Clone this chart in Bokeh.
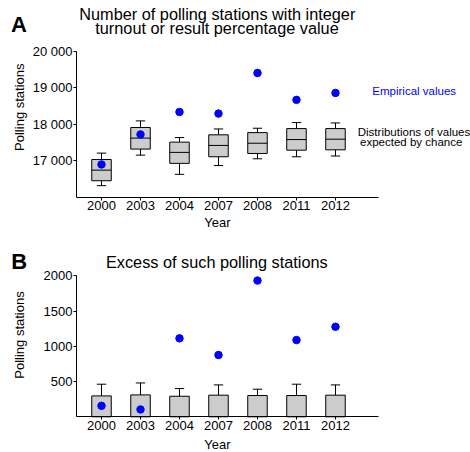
import math
from bokeh.plotting import figure
from bokeh.models import Range1d, FixedTicker, Label, LinearAxis
from bokeh.layouts import column
from bokeh.embed import file_html
from bokeh.resources import INLINE

years = ["2000", "2003", "2004", "2007", "2008", "2011", "2012"]

# Panel A: distributions expected by chance (box plots) and empirical values
whisker_low_a = [16320, 17155, 16630, 16870, 17055, 17110, 17130]
q1_a = [16455, 17320, 16930, 17110, 17200, 17290, 17300]
median_a = [16745, 17620, 17230, 17420, 17480, 17580, 17590]
q3_a = [17035, 17910, 17510, 17710, 17770, 17880, 17880]
whisker_high_a = [17210, 18090, 17635, 17870, 17890, 18045, 18035]
empirical_a = [16900, 17720, 18335, 18290, 19400, 18665, 18855]
yticks_a = [17000, 18000, 19000, 20000]

# Panel B: excess of such polling stations
expected_b = [297, 311, 292, 307, 302, 302, 307]
expected_b_high = [463, 481, 401, 453, 392, 463, 453]
empirical_b = [156, 104, 1114, 878, 1935, 1090, 1279]
yticks_b = [500, 1000, 1500, 2000]

FONT = "Liberation Sans"
GREY = "#cccccc"
BLUE = "#0000ff"
xs = list(range(1, len(years) + 1))
BOX_W = 0.5
CAP_W = 0.24
X_VIEW = (-1.590, 10.462)      # visible x extent (canvas)
X_AXIS = (0.359, 8.103)        # drawn extent of the x axis


def make_fig(h, y_view, y_axis_bounds, yticks, ylabels):
    p = figure(width=470, height=h, output_backend="svg", toolbar_location=None,
               x_range=Range1d(*X_VIEW), y_range=Range1d(*y_view),
               x_axis_location=None, y_axis_location=None, min_border=0)
    p.outline_line_color = None
    p.background_fill_color = "white"
    p.border_fill_color = "white"
    for g in p.xgrid + p.ygrid:
        g.visible = False
    xa = LinearAxis(fixed_location=y_axis_bounds[0], bounds=X_AXIS,
                    ticker=FixedTicker(ticks=xs),
                    major_label_overrides={x: y for x, y in zip(xs, years)})
    ya = LinearAxis(fixed_location=X_AXIS[0], bounds=y_axis_bounds,
                    ticker=FixedTicker(ticks=yticks),
                    major_label_overrides={t: l for t, l in zip(yticks, ylabels)})
    for ax in (xa, ya):
        ax.axis_line_color = "black"
        ax.axis_line_width = 1
        ax.major_tick_line_color = "black"
        ax.major_tick_out = 3
        ax.major_tick_in = 0
        ax.minor_tick_out = 0
        ax.minor_tick_in = 0
        ax.major_label_text_font = FONT
        ax.major_label_text_font_size = "13px"
        ax.major_label_text_color = "black"
        ax.major_label_standoff = 1
    p.add_layout(xa, "below")
    p.add_layout(ya, "left")
    return p


def lbl(p, x, y, text, size, color="black", bold=False, angle=0.0):
    p.add_layout(Label(x=x, y=y, x_units="screen", y_units="screen", text=text,
                       text_font=FONT, text_font_size=size, text_color=color,
                       text_font_style="bold" if bold else "normal",
                       text_align="center", text_baseline="alphabetic", angle=angle))


# ---------- Panel A ----------
pa = make_fig(230, (15095.6, 21379.8), (16000, 20000), yticks_a,
              [f"{t:,}".replace(",", " ") for t in yticks_a])

pa.segment(x0=xs, y0=q3_a, x1=xs, y1=whisker_high_a, line_color="black", line_width=1)
pa.segment(x0=xs, y0=whisker_low_a, x1=xs, y1=q1_a, line_color="black", line_width=1)
pa.segment(x0=[x - CAP_W / 2 for x in xs], y0=whisker_high_a,
           x1=[x + CAP_W / 2 for x in xs], y1=whisker_high_a, line_color="black", line_width=1)
pa.segment(x0=[x - CAP_W / 2 for x in xs], y0=whisker_low_a,
           x1=[x + CAP_W / 2 for x in xs], y1=whisker_low_a, line_color="black", line_width=1)
pa.vbar(x=xs, width=BOX_W, bottom=q1_a, top=q3_a, fill_color=GREY,
        line_color="black", line_width=1)
pa.segment(x0=[x - BOX_W / 2 for x in xs], y0=median_a,
           x1=[x + BOX_W / 2 for x in xs], y1=median_a, line_color="black", line_width=1)
pa.scatter(x=xs, y=empirical_a, size=7.5, fill_color=BLUE, line_color=BLUE)

lbl(pa, 18.5, 205.7, "A", "22px", bold=True)
lbl(pa, 216.8, 216.5, "Number of polling stations with integer", "16.3px")
lbl(pa, 216.5, 202.3, "turnout or result percentage value", "16.3px")
lbl(pa, 18.5, 123.3, "Polling stations", "13px", angle=math.pi / 2)
lbl(pa, 217, 8.5, "Year", "13px")
lbl(pa, 413.7, 140, "Empirical values", "11.5px", color=BLUE)
lbl(pa, 413.5, 98.3, "Distributions of values", "11.5px")
lbl(pa, 410.7, 88.3, "expected by chance", "11.5px")

# ---------- Panel B ----------
pb = make_fig(222, (-507.1, 2646.3), (0, 2000), yticks_b, [str(t) for t in yticks_b])

pb.segment(x0=xs, y0=expected_b, x1=xs, y1=expected_b_high, line_color="black", line_width=1)
pb.segment(x0=[x - CAP_W / 2 for x in xs], y0=expected_b_high,
           x1=[x + CAP_W / 2 for x in xs], y1=expected_b_high, line_color="black", line_width=1)
pb.vbar(x=xs, width=BOX_W, bottom=0, top=expected_b, fill_color=GREY,
        line_color="black", line_width=1)
pb.scatter(x=xs, y=empirical_b, size=7.5, fill_color=BLUE, line_color=BLUE)

lbl(pb, 18.7, 191, "B", "22px", bold=True)
lbl(pb, 216.3, 190.3, "Excess of such polling stations", "16.3px")
lbl(pb, 18.5, 117.5, "Polling stations", "13px", angle=math.pi / 2)
lbl(pb, 217, 8.5, "Year", "13px")

layout = column(pa, pb, spacing=0)
open("out.html", "w").write(file_html(layout, INLINE))
